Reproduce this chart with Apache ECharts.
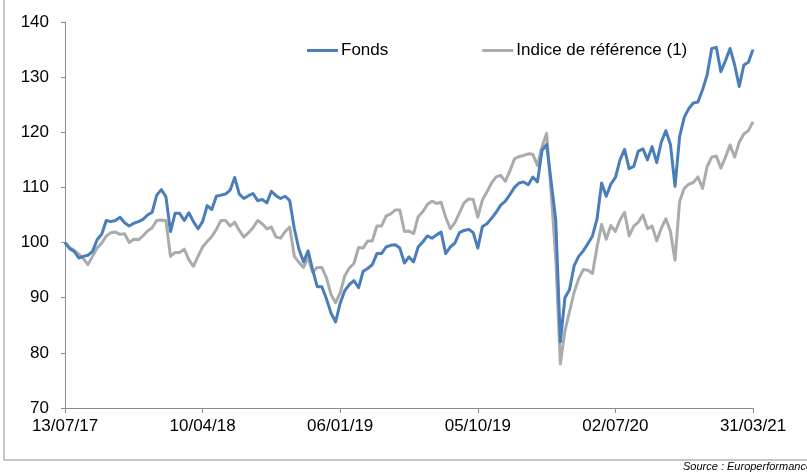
<!DOCTYPE html>
<html>
<head>
<meta charset="utf-8">
<script src="https://cdn.jsdelivr.net/npm/echarts@6/dist/echarts.min.js"></script>
<style>
  html, body { margin: 0; padding: 0; background: #fff; }
  #chart { width: 807px; height: 473px; }
</style>
</head>
<body>
<div id="chart"></div>
<script>
// libellés de l'axe des dates (un tous les 30 points)
var tickLabels = ['13/07/17', '10/04/18', '06/01/19', '05/10/19', '02/07/20', '31/03/21'];
var yTicks = [70, 80, 90, 100, 110, 120, 130, 140];

// Fonds (base 100)
var fonds = [
  100, 98.9, 98.4, 97.2, 97.5, 97.7, 98.4, 100.5, 101.5, 104,
  103.8, 104, 104.6, 103.6, 103, 103.5, 103.8, 104.2, 105, 105.5,
  108.6, 109.6, 108.3, 102, 105.3, 105.3, 104, 105.4, 103.8, 102.5,
  103.8, 106.7, 106, 108.4, 108.6, 108.8, 109.5, 111.8, 108.8, 108,
  108.5, 108.9, 107.6, 107.8, 107.2, 109.3, 108.5, 108, 108.4, 107.6,
  102.5, 98.8, 96.5, 98.5, 95, 92, 92, 89.8, 87.2, 85.6,
  89, 91.3, 92.4, 93.1, 91.8, 94.8, 95.3, 96, 98, 98,
  99.2, 99.5, 99.6, 99, 96.3, 97.4, 96.5, 99.2, 100.1, 101.2,
  100.8, 101.4, 101.9, 98, 99.2, 99.9, 101.8, 102.2, 102.4, 101.8,
  99, 102.9, 103.4, 104.4, 105.5, 106.8, 107.5, 108.7, 110, 110.8,
  111, 110.5, 111.9, 111, 116.7, 117.8, 111, 104, 82, 90,
  91.5, 95.8, 97.5, 98.5, 99.8, 101.2, 104.3, 110.8, 108.4, 110.6,
  111.8, 115, 116.9, 113.4, 113.8, 116.6, 117, 115, 117.4, 114.5,
  118.2, 120.3, 117.8, 110.2, 119.2, 122.7, 124.3, 125.3, 125.5, 127.7,
  130.4, 135.2, 135.4, 131, 133, 135.2, 132.2, 128.3, 132.2, 132.7,
  135
];

// Indice de référence (1)
var indice = [
  100, 99.1, 98.6, 97.9, 97.1, 96, 97.5, 99, 99.9, 101.2,
  101.8, 101.9, 101.5, 101.6, 100, 100.6, 100.5, 101.2, 102.1, 102.7,
  104, 104.1, 104, 97.5, 98.2, 98.2, 98.8, 96.9, 95.7, 97.5,
  99.2, 100.2, 101.1, 102.4, 104, 104, 103, 103.7, 102.2, 101,
  101.8, 102.7, 104, 103.4, 102.5, 102.8, 101, 100.8, 102, 102.8,
  97.5, 96.4, 95.5, 97.3, 94.6, 95.5, 95.5, 93.6, 90.6, 89.1,
  90.9, 94, 95.4, 96.2, 99.1, 99, 100.3, 100.3, 103, 103,
  104.8, 105.2, 105.9, 105.9, 102, 102.1, 101.6, 104.7, 105.6, 106.9,
  107.5, 107.1, 107.3, 104.6, 102.5, 103.6, 105.4, 107.2, 107.9, 107.8,
  104.6, 107.7, 109.2, 110.8, 111.9, 112.2, 111.1, 113, 115.2, 115.6,
  115.8, 116.1, 116, 114, 117.4, 119.8, 109, 97, 78, 84,
  87.5, 91, 93.4, 95.1, 95, 94.4, 99.2, 103.3, 100.6, 103.1,
  102, 104.1, 105.5, 101.2, 103, 103.7, 105, 102.5, 103, 100.3,
  102.6, 104.3, 102, 96.8, 107.5, 109.8, 110.6, 110.9, 111.9, 109.8,
  113.8, 115.5, 115.7, 113.5, 115.5, 117.7, 115.5, 118.2, 119.7, 120.3,
  121.9
];

var step = 30;
var categories = fonds.map(function (v, i) { return String(i); });

var txt = '#000000';
var axisGrey = '#8c8c8c';
var font = '"Liberation Sans", Arial, sans-serif';

var option = {
  animation: false,
  backgroundColor: '#ffffff',
  textStyle: { fontFamily: font },
  grid: { left: 65, right: 54, top: 22, bottom: 65, containLabel: false },
  legend: {
    left: 307,
    top: 42,
    padding: 0,
    itemWidth: 31,
    itemHeight: 3,
    itemGap: 94,
    icon: 'rect',
    textStyle: { fontSize: 17, color: txt, fontFamily: font, padding: [0, 0, 0, -2] },
    data: ['Fonds', 'Indice de référence (1)']
  },
  xAxis: {
    type: 'category',
    data: categories,
    boundaryGap: false,
    axisLine: { lineStyle: { color: axisGrey, width: 1 } },
    axisTick: {
      show: true, interval: step - 1, length: 5, inside: false,
      lineStyle: { color: axisGrey }
    },
    axisLabel: {
      interval: step - 1,
      margin: 10,
      fontSize: 17,
      color: txt,
      fontFamily: font,
      formatter: function (v, idx) {
        return idx % step === 0 ? tickLabels[idx / step] : '';
      }
    },
    splitLine: { show: false }
  },
  yAxis: {
    type: 'value',
    min: yTicks[0],
    max: yTicks[yTicks.length - 1],
    interval: 10,
    axisLine: { show: true, lineStyle: { color: axisGrey, width: 1 } },
    axisTick: { show: true, length: 4, lineStyle: { color: axisGrey } },
    axisLabel: { margin: 16, fontSize: 17, color: txt, fontFamily: font },
    splitLine: { show: false }
  },
  series: [
    {
      name: 'Fonds',
      type: 'line',
      data: fonds,
      showSymbol: false,
      symbol: 'none',
      color: '#4a7ebb',
      lineStyle: { width: 3, color: '#4a7ebb', join: 'round' },
      z: 3
    },
    {
      name: 'Indice de référence (1)',
      type: 'line',
      data: indice,
      showSymbol: false,
      symbol: 'none',
      color: '#a9abae',
      lineStyle: { width: 3, color: '#a9abae', join: 'round' },
      z: 2
    }
  ],
  graphic: [
    {
      type: 'rect',
      silent: true,
      shape: { x: 4, y: -10, width: 840, height: 470 },
      style: { fill: 'none', stroke: '#b4b4b4', lineWidth: 1.5 }
    },
    {
      type: 'text',
      left: 683,
      top: 461,
      style: {
        text: 'Source : Europerformance',
        fill: '#000',
        font: 'italic 11px "Liberation Sans", Arial, sans-serif'
      }
    }
  ]
};

var chart = echarts.init(document.getElementById('chart'));
chart.setOption(option);
</script>
</body>
</html>
